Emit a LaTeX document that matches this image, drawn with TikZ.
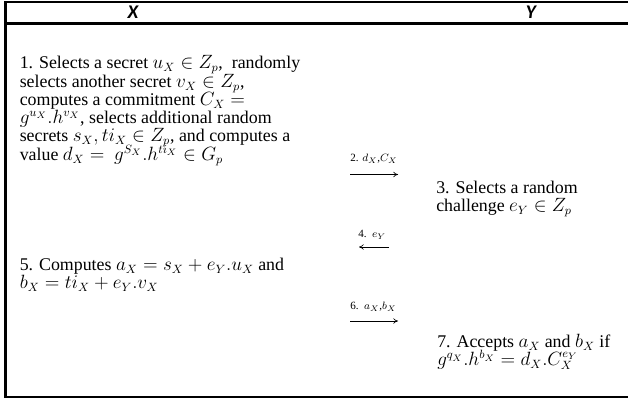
\documentclass[tikz,border=0pt]{standalone}
\usepackage{fontspec}
\setmainfont{Liberation Serif}
\newfontfamily\hdrfont{Carlito}
\usetikzlibrary{arrows.meta}
\begin{document}
\begin{tikzpicture}[x=0.75pt,y=-0.75pt,
  frame/.style={line width=1.6pt,black},
  body/.style={anchor=north west,inner sep=0pt,align=left,
    font={\fontsize{13.4}{13.7}\selectfont\lineskiplimit=-20pt\lineskip=0pt}},
  hdr/.style={inner sep=0pt,font={\hdrfont\bfseries\itshape\fontsize{14.5}{16}\selectfont}},
  lbl/.style={anchor=south west,inner sep=0pt,font={\fontsize{8.3}{9}\selectfont}},
  msg/.style={line width=0.5pt,-{To[length=3.5pt,width=4pt]}}]
\useasboundingbox (0,0) rectangle (628,399);
% frame
\coordinate (tl) at (5.5,1.8);
\coordinate (tr) at (628,1.8);
\coordinate (hl) at (5.5,23.5);
\coordinate (hr) at (628,23.5);
\coordinate (bl) at (5.5,397);
\coordinate (br) at (628,397);
\draw[frame] (tr) -- (tl) -- (bl) -- (br);
\draw[frame] (hl) -- (hr);
% header
\node[hdr] (hx) at (133,12.5) {X};
\node[hdr] (hy) at (531,12.5) {Y};
% X steps
\node[body] (s1) at (19.5,55.5) {1. Selects a secret $u_X \in Z_p$,\ \ randomly\\
selects another secret $v_X \in Z_p$,\\
computes a commitment $C_X =$\\
$g^{u_X}.h^{v_X}$, selects additional random\\
secrets $s_X, ti_X \in Z_p$, and computes a\\
value $d_X =\ g^{S_X}.h^{ti_X} \in G_p$};
\node[body] (s3) at (436,181) {3. Selects a random\\
challenge $e_Y \in Z_p$};
\node[body] (s5) at (19.5,258) {5. Computes $a_X = s_X + e_Y.u_X$ and\\
$b_X = ti_X + e_Y.v_X$};
\node[body] (s7) at (437,334) {7. Accepts $a_X$ and $b_X$ if\\
$g^{q_X}.h^{b_X} = d_X.C_X^{e_Y}$};
% messages
\coordinate (m2a) at (350,174.5);
\coordinate (m2b) at (398,174.5);
\draw[msg] (m2a) -- (m2b);
\node[lbl] (l2) at (350,164) {2. $d_X$,$C_X$};
\coordinate (m4a) at (389,247);
\coordinate (m4b) at (359,247);
\draw[msg] (m4a) -- (m4b);
\node[lbl] (l4) at (358,239.5) {4.\ \ $e_Y$};
\coordinate (m6a) at (350,321);
\coordinate (m6b) at (398,321);
\draw[msg] (m6a) -- (m6b);
\node[lbl] (l6) at (350,311.5) {6.\ \ $a_X$,$b_X$};
\end{tikzpicture}
\end{document}
